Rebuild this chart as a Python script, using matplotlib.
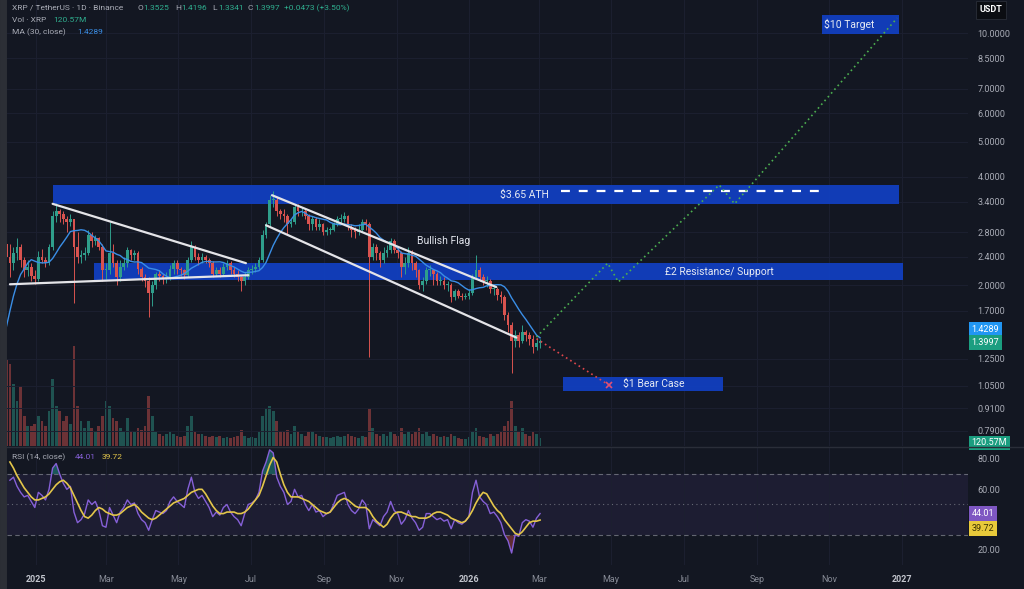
import numpy as np
import pandas as pd
import matplotlib
matplotlib.use('Agg')
import matplotlib.pyplot as plt
import matplotlib.dates as mdates
import matplotlib.transforms as mtrans

plt.rcParams['font.family'] = ['Roboto', 'DejaVu Sans']

W, H = 1024, 589
BG = '#131722'
GRID = '#1c2030'
TXT = '#a9acb6'
UP, DOWN = '#2f9e8b', '#d9534f'
ZONE = '#1140c4'

# 3-day candles from 7 Nov 2024 (first 11 sit left of the view, they only feed the MA)
first_day = '2024-11-07'
closes = [0.55, 0.65, 0.75, 1.05, 1.10, 1.45, 1.40, 1.60, 2.30, 2.60, 2.40,
          2.30, 2.45, 2.55, 2.35, 2.20, 2.25, 2.12, 2.08, 2.40, 2.35,
          2.30, 2.55, 3.10, 3.20, 3.15, 3.05, 3.00, 3.05, 2.55, 2.40,
          2.42, 2.45, 2.75, 2.65, 2.70, 2.55, 2.20, 2.20, 2.45, 2.30,
          2.10, 2.25, 2.30, 2.50, 2.42, 2.45, 2.22, 2.10, 2.05, 1.90,
          2.00, 2.15, 2.12, 2.08, 2.10, 2.22, 2.30, 2.22, 2.20, 2.13,
          2.35, 2.55, 2.40, 2.35, 2.40, 2.35, 2.30, 2.15, 2.20, 2.15,
          2.25, 2.30, 2.20, 2.15, 2.10, 2.05, 2.10, 2.20, 2.22, 2.25,
          2.35, 2.75, 2.95, 3.45, 3.45, 3.20, 3.15, 3.10, 2.95, 3.00,
          3.30, 3.20, 3.20, 3.10, 2.95, 3.05, 2.90, 2.95, 2.80, 2.85,
          2.85, 2.95, 3.05, 3.05, 3.10, 2.90, 2.85, 2.80, 2.85, 3.00,
          2.95, 2.40, 2.55, 2.45, 2.35, 2.45, 2.50, 2.65, 2.50, 2.45,
          2.25, 2.30, 2.45, 2.30, 2.20, 2.00, 2.05, 2.20, 2.20, 2.15,
          2.05, 2.05, 2.00, 2.00, 1.85, 1.92, 1.87, 1.85, 1.87, 1.90,
          2.10, 2.20, 2.10, 2.05, 2.05, 1.95, 1.95, 1.88, 1.85, 1.65,
          1.55, 1.40, 1.45, 1.40, 1.48, 1.45, 1.42, 1.35, 1.38, 1.3997]
highs = [0.56, 0.70, 0.80, 1.15, 1.18, 1.63, 1.55, 1.90, 2.40, 2.90, 2.65,
         2.60, 2.55, 2.70, 2.60, 2.40, 2.35, 2.30, 2.20, 2.48, 2.52,
         2.40, 2.60, 3.20, 3.38, 3.25, 3.20, 3.10, 3.15, 3.05, 2.80,
         2.50, 2.55, 2.85, 2.80, 2.75, 2.72, 2.60, 2.30, 3.00, 2.60,
         2.35, 2.35, 2.40, 2.55, 2.52, 2.50, 2.48, 2.25, 2.15, 2.10,
         2.05, 2.18, 2.20, 2.15, 2.18, 2.28, 2.35, 2.35, 2.25, 2.22,
         2.40, 2.65, 2.58, 2.45, 2.45, 2.42, 2.38, 2.33, 2.25, 2.25,
         2.30, 2.35, 2.33, 2.25, 2.20, 2.12, 2.18, 2.25, 2.28, 2.30,
         2.40, 2.85, 3.00, 3.55, 3.65, 3.50, 3.25, 3.25, 3.15, 3.05,
         3.35, 3.35, 3.30, 3.25, 3.15, 3.10, 3.08, 3.05, 2.98, 2.90,
         2.90, 3.00, 3.10, 3.15, 3.18, 3.12, 2.95, 2.90, 2.95, 3.05,
         3.05, 3.00, 2.62, 2.60, 2.48, 2.55, 2.58, 2.70, 2.68, 2.55,
         2.48, 2.40, 2.55, 2.50, 2.33, 2.22, 2.10, 2.25, 2.28, 2.22,
         2.18, 2.12, 2.10, 2.05, 2.03, 1.95, 1.95, 1.90, 1.90, 1.95,
         2.15, 2.42, 2.25, 2.15, 2.12, 2.08, 2.00, 1.98, 1.92, 1.88,
         1.68, 1.58, 1.50, 1.48, 1.55, 1.50, 1.48, 1.45, 1.43, 1.4196]
lows = [0.50, 0.55, 0.62, 0.75, 0.98, 1.10, 1.30, 1.38, 1.60, 2.20, 2.30,
        2.10, 2.20, 2.35, 2.25, 2.10, 2.12, 2.05, 2.02, 2.05, 2.30,
        2.25, 2.28, 2.50, 3.00, 3.00, 2.95, 2.80, 2.92, 1.78, 2.30,
        2.30, 2.35, 2.42, 2.55, 2.58, 2.50, 2.05, 2.08, 2.15, 2.25,
        2.00, 2.05, 2.20, 2.25, 2.35, 2.35, 2.15, 2.05, 1.98, 1.63,
        1.75, 1.95, 2.05, 2.02, 2.03, 2.06, 2.15, 2.15, 2.12, 2.08,
        2.10, 2.32, 2.35, 2.28, 2.30, 2.30, 2.25, 2.10, 2.12, 2.10,
        2.12, 2.20, 2.15, 2.10, 2.05, 1.92, 2.00, 2.08, 2.15, 2.18,
        2.22, 2.32, 2.70, 2.92, 3.30, 3.10, 3.05, 3.00, 2.75, 2.90,
        2.95, 3.10, 3.10, 3.05, 2.85, 2.85, 2.85, 2.85, 2.75, 2.75,
        2.78, 2.82, 2.92, 2.98, 3.00, 2.85, 2.72, 2.70, 2.76, 2.82,
        2.85, 1.26, 2.35, 2.35, 2.25, 2.30, 2.40, 2.45, 2.45, 2.38,
        2.10, 2.15, 2.25, 2.20, 2.10, 1.95, 1.92, 2.02, 2.12, 2.00,
        2.00, 2.00, 1.95, 1.92, 1.80, 1.82, 1.84, 1.82, 1.83, 1.83,
        1.88, 2.08, 2.05, 2.00, 1.98, 1.90, 1.88, 1.82, 1.78, 1.60,
        1.48, 1.14, 1.35, 1.35, 1.38, 1.40, 1.36, 1.30, 1.32, 1.3341]
volume_m = [300, 500, 700, 1200, 900, 1500, 1000, 1200, 2000, 1800, 1300,
            1230, 930, 680, 900, 450, 300, 300, 330, 450, 380,
            300, 520, 1000, 600, 520, 380, 450, 330, 1500, 600,
            380, 270, 380, 270, 220, 300, 450, 680, 600, 420,
            380, 270, 220, 420, 220, 210, 270, 240, 300, 750,
            450, 210, 180, 150, 180, 210, 180, 150, 135, 150,
            300, 450, 210, 180, 180, 150, 135, 150, 135, 150,
            120, 135, 120, 135, 150, 240, 150, 120, 135, 120,
            210, 450, 570, 600, 520, 380, 220, 210, 240, 180,
            300, 220, 180, 150, 210, 220, 180, 150, 135, 135,
            120, 135, 150, 135, 150, 180, 150, 135, 120, 150,
            135, 560, 270, 180, 150, 180, 150, 210, 180, 150,
            270, 180, 220, 180, 210, 270, 180, 210, 150, 180,
            150, 135, 150, 135, 180, 150, 120, 105, 105, 135,
            210, 270, 150, 135, 120, 180, 150, 180, 210, 300,
            380, 680, 300, 210, 270, 180, 150, 210, 180, 120.57]
ma_last = 1.4289  # MA(30) value printed in the legend

# RSI(14) and its moving average, from 10 Dec 2024 on
rsi = [66, 68, 62, 58, 55, 56, 52, 48, 58, 56,
       53, 60, 74, 77, 70, 64, 60, 62, 45, 38,
       40, 44, 53, 50, 52, 46, 36, 35, 48, 43,
       38, 45, 48, 53, 50, 51, 44, 40, 38, 33,
       40, 46, 45, 44, 46, 52, 55, 52, 50, 48,
       60, 68, 58, 54, 56, 52, 48, 42, 45, 43,
       48, 50, 45, 42, 40, 36, 44, 50, 51, 53,
       58, 72, 78, 86, 84, 68, 62, 58, 50, 52,
       60, 55, 56, 50, 46, 50, 45, 46, 42, 44,
       45, 50, 56, 57, 58, 50, 46, 44, 47, 53,
       50, 34, 40, 38, 36, 42, 45, 52, 46, 44,
       37, 40, 46, 41, 38, 33, 35, 44, 44, 42,
       40, 41, 39, 40, 34, 40, 38, 37, 39, 42,
       58, 66, 55, 52, 50, 44, 45, 42, 38, 30,
       26, 18, 30, 29, 38, 40, 39, 35, 41, 44.01]
rsi_ma = [78, 74, 69, 65, 61, 58, 55, 53, 53, 54,
          55, 57, 60, 63, 65, 66, 64, 61, 56, 51,
          46, 42, 41, 43, 46, 48, 47, 45, 44, 43,
          43, 44, 46, 48, 49, 50, 48, 45, 43, 41,
          40, 41, 43, 45, 47, 49, 51, 52, 53, 54,
          56, 58, 59, 60, 60, 57, 53, 49, 46, 44,
          44, 45, 45, 45, 44, 44, 45, 47, 50, 53,
          56, 62, 69, 76, 81, 78, 70, 63, 58, 55,
          55, 55, 54, 53, 52, 50, 48, 46, 45, 44,
          45, 48, 51, 53, 54, 53, 51, 49, 48, 48,
          48, 46, 42, 39, 37, 35, 37, 41, 44, 45,
          45, 44, 43, 42, 42, 41, 41, 41, 42, 44,
          45, 45, 44, 43, 41, 40, 39, 38, 39, 42,
          46, 51, 55, 58, 57, 53, 49, 46, 44, 40,
          37, 34, 31, 30, 32, 35, 38, 39, 39, 39.72]

price_ticks = [10, 8.5, 7, 6, 5, 4, 3.4, 2.8, 2.4, 2.0, 1.7, 1.25, 1.05, 0.91, 0.79]
rsi_ticks = [20, 60, 80]
month_ticks = ['2025-01-01', '2025-03-01', '2025-05-01', '2025-07-01', '2025-09-01', '2025-11-01',
               '2026-01-01', '2026-03-01', '2026-05-01', '2026-07-01', '2026-09-01', '2026-11-01',
               '2027-01-01']
month_labels = ['2025', 'Mar', 'May', 'Jul', 'Sep', 'Nov', '2026', 'Mar', 'May', 'Jul', 'Sep', 'Nov', '2027']

# drawings on the chart: (dates, prices)
tri_top = (['2025-01-15', '2025-06-27'], [3.36, 2.30])
tri_bottom = (['2024-12-10', '2025-06-29'], [2.01, 2.13])
flag_top = (['2025-07-19', '2026-01-24'], [3.55, 1.975])
flag_bottom = (['2025-07-14', '2026-02-10'], [2.93, 1.43])
bull_path = (['2026-02-27', '2026-04-28', '2026-05-07', '2026-07-31', '2026-08-13', '2026-12-28'],
             [1.435, 2.30, 2.04, 3.79, 3.36, 11.0])
bear_path = (['2026-02-27', '2026-04-29'], [1.42, 1.056])
ath_line = (['2026-03-20', '2026-10-24'], [3.65, 3.65])
# label, from, to, low, high, label date
zones = [('$3.65 ATH', '2025-01-15', '2026-12-30', 3.36, 3.79, '2026-02-17'),
         ('£2 Resistance/ Support', '2025-02-19', '2027-01-02', 2.065, 2.30, '2026-07-31'),
         ('$1 Bear Case', '2026-03-21', '2026-08-03', 1.017, 1.112, '2026-06-06'),
         ('$10 Target', '2026-10-26', '2026-12-30', 9.94, 11.22, '2026-11-18')]
flag_label = ('Bullish Flag', '2025-12-11', 2.65)


def dn(d):
    return mdates.date2num(pd.to_datetime(d).to_numpy())


t = dn(pd.date_range(first_day, periods=len(closes), freq='3D'))
c = np.array(closes)
o = np.r_[c[0], c[:-1]]  # open = previous close
hi = np.maximum(highs, np.maximum(o, c))
lo = np.minimum(lows, np.minimum(o, c))
up = c >= o
cols = np.where(up, UP, DOWN)
ma30 = pd.Series(closes).rolling(10).mean()  # 10 x 3 days
t_r = t[len(t) - len(rsi):]
rsi_a = np.array(rsi)

x_left = dn('2025-01-01') - 24.45
x_right = dn('2025-01-01') + 785.8

fig = plt.figure(figsize=(W / 100, H / 100), dpi=100, facecolor=BG)
rect = [7 / W, 1 - 446 / H, 961 / W, 446 / H]
vax = fig.add_axes(rect, label='vol')
ax = fig.add_axes(rect, label='price')
rax = fig.add_axes([7 / W, 24 / H, 961 / W, 118 / H])
ax.patch.set_alpha(0)
rax.set_facecolor(BG)

# volume
vax.bar(t, volume_m, width=2.3, color=cols, alpha=0.45, linewidth=0)
vax.set_ylim(0, 6700)
vax.set_xlim(x_left, x_right)
vax.axis('off')

# price pane
ax.set_yscale('log')
ax.set_xlim(x_left, x_right)
ax.set_ylim(0.7156, 12.35)
for lab, d0, d1, p0, p1, dl in zones:
    ax.fill_between(dn([d0, d1]), p0, p1, color=ZONE, alpha=0.92, lw=0, zorder=1)
    ax.text(dn(dl), np.sqrt(p0 * p1), lab, color='#e6eaf3', fontsize=7.5,
            ha='center', va='center', zorder=6)

ax.vlines(t, lo, hi, color=cols, lw=0.7, zorder=3)
body = np.maximum(np.abs(c - o), c * 0.006)
ax.bar(t, body, bottom=np.minimum(o, c), width=2.3, color=cols, lw=0, zorder=3)
ax.plot(t, ma30, color='#3a8ee6', lw=1.0, zorder=4)

for line in (tri_top, tri_bottom, flag_top, flag_bottom):
    ax.plot(dn(line[0]), line[1], color='#e4e4e8', lw=1.6, solid_capstyle='round', zorder=5)
ax.plot(dn(ath_line[0]), ath_line[1], color='white', lw=1.6, dashes=(4, 4), zorder=5)
ax.plot(dn(bull_path[0]), bull_path[1], color='#4caf50', lw=1.2, ls=(0, (1, 2)), zorder=5)
ax.plot(dn(bear_path[0]), bear_path[1], color='#e0474c', lw=1.2, ls=(0, (1, 2)), zorder=5)
ax.plot(dn(bear_path[0][-1]), bear_path[1][-1], marker='x', color='#e05075', ms=5, mew=1.2, zorder=6)
ax.text(dn(flag_label[1]), flag_label[2], flag_label[0], color='#e0e3eb', fontsize=7.5,
        ha='center', va='center', zorder=6)

ax.yaxis.tick_right()
ax.yaxis.set_minor_locator(matplotlib.ticker.NullLocator())
ax.set_yticks(price_ticks)
ax.set_yticklabels([f'{v:.4f}' for v in price_ticks])
ax.set_xticks(dn(month_ticks))
ax.tick_params(axis='y', length=0, pad=7, labelsize=6.5, colors=TXT)
ax.tick_params(axis='x', length=0, labelbottom=False)
ax.grid(True, color=GRID, lw=0.7)
ax.set_axisbelow(True)
for s in ax.spines.values():
    s.set_visible(False)

# RSI pane
rax.set_xlim(x_left, x_right)
rax.set_ylim(10.1, 87.9)
rax.axhspan(30, 70, color='#7e57c2', alpha=0.1, lw=0)
for lvl, ls in ((70, (0, (4, 3))), (30, (0, (4, 3))), (50, (0, (1, 3)))):
    rax.axhline(lvl, color='#787b86', lw=0.8, ls=ls, alpha=0.8)
rax.fill_between(t_r, rsi_a, 70, where=rsi_a >= 70, interpolate=True, color='#26a69a', alpha=0.45, lw=0)
rax.fill_between(t_r, rsi_a, 30, where=rsi_a <= 30, interpolate=True, color='#ef5350', alpha=0.35, lw=0)
rax.plot(t_r, rsi, color='#8660d8', lw=1.0)
rax.plot(t_r, rsi_ma, color='#e3c64a', lw=1.2)
rax.yaxis.tick_right()
rax.set_yticks(rsi_ticks)
rax.set_yticklabels([f'{v:.2f}' for v in rsi_ticks])
rax.set_xticks(dn(month_ticks))
rax.set_xticklabels(month_labels)
rax.tick_params(axis='y', length=0, pad=7, labelsize=6.5, colors=TXT)
rax.tick_params(axis='x', length=0, pad=7, labelsize=6.5, colors='#878b96')
for lbl in rax.get_xticklabels():
    if lbl.get_text().isdigit():
        lbl.set_fontweight('bold')
        lbl.set_color('#c3c6ce')
rax.grid(True, axis='x', color=GRID, lw=0.7)
for s in rax.spines.values():
    s.set_visible(False)

fig.add_artist(plt.Line2D([7 / W, 1], [1 - 446.5 / H] * 2, color='#2a2e39', lw=1))
fig.add_artist(plt.Line2D([3 / W, 3 / W], [0, 1], color='#2c2f36', lw=5))


def tag(a, y, s, fc, dy=0, tc='white'):
    tr = mtrans.blended_transform_factory(a.transAxes, a.transData)
    a.annotate(s, xy=(1, y), xycoords=tr, xytext=(2.5, dy), textcoords='offset points',
               ha='left', va='center', fontsize=6.5, color=tc, annotation_clip=False, zorder=10,
               bbox=dict(boxstyle='square,pad=0.3', fc=fc, ec='none'))


tag(ax, ma_last, f'{ma_last:.4f}', '#2196f3', dy=6)
tag(ax, closes[-1], f'{closes[-1]:.4f}', '#1b9e80', dy=-1)
tag(vax, volume_m[-1], f'{volume_m[-1]:.2f}M', '#1b9e80', dy=-3.5)
tag(rax, rsi[-1], f'{rsi[-1]:.2f}', '#7e57c2')
tag(rax, rsi_ma[-1], f'{rsi_ma[-1]:.2f}', '#e8c93a', dy=-6, tc='#3a3000')


def ftext(x, y, s, color, size=6, weight='normal', **kw):
    fig.text(x / W, 1 - y / H, s, color=color, fontsize=size, fontweight=weight,
             ha='left', va='center', **kw)


GREEN = '#2fae8f'
ftext(12, 8, 'XRP / TetherUS · 1D · Binance', TXT)
for x, k, v in ((137, 'O', '1.3525'), (175, 'H', '1.4196'), (212, 'L', '1.3341'), (248, 'C', '1.3997')):
    ftext(x, 8, k, TXT)
    ftext(x + 6, 8, v, GREEN)
ftext(284, 8, '+0.0473 (+3.50%)', GREEN)
ftext(12, 20, 'Vol · XRP', TXT)
ftext(53, 20, '120.57M', GREEN)
ftext(12, 32, 'MA (30, close)', TXT)
ftext(77, 32, f'{ma_last:.4f}', '#3a8ee6')
ftext(12, 457, 'RSI (14, close)', TXT)
ftext(75, 457, f'{rsi[-1]:.2f}', '#8660d8')
ftext(102, 457, f'{rsi_ma[-1]:.2f}', '#e3c64a')
fig.text(991 / W, 1 - 10 / H, 'USDT', color='white', fontsize=6.5, fontweight='bold',
         ha='center', va='center',
         bbox=dict(boxstyle='square,pad=0.45', fc='#0b0d12', ec='#2a2e39', lw=0.6))

fig.savefig('out.png', dpi=100, facecolor=BG)
